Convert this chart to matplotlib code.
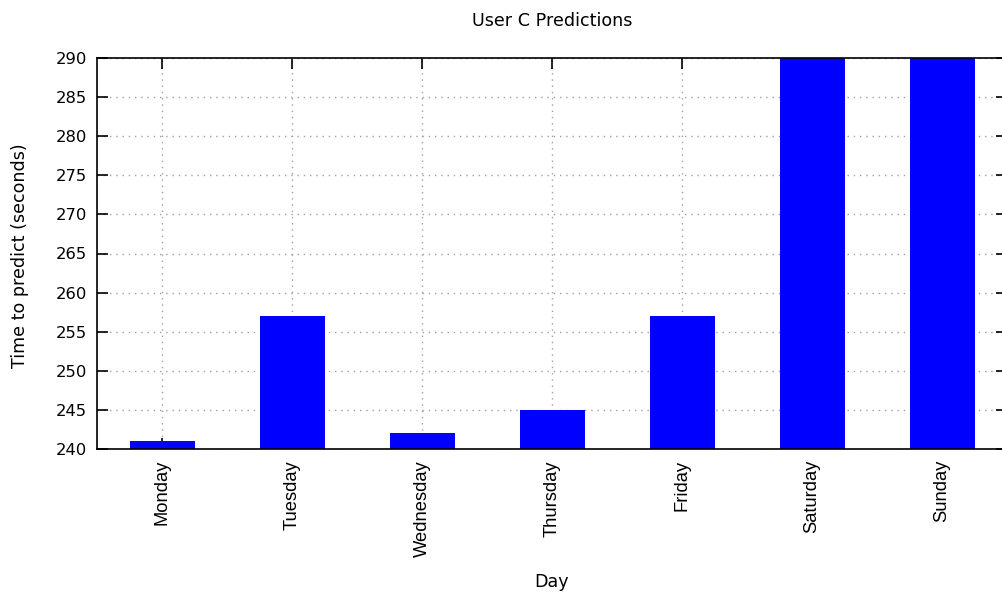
import matplotlib
matplotlib.use("Agg")
import matplotlib.pyplot as plt
import numpy as np

days = ['Monday', 'Tuesday', 'Wednesday', 'Thursday', 'Friday', 'Saturday', 'Sunday']
seconds = [241, 257, 242, 245, 257, 300, 300]
yticks = list(range(240, 291, 5))

plt.rcParams['font.family'] = 'DejaVu Sans'

W, H = 1002, 599
fig = plt.figure(figsize=(W / 100, H / 100), dpi=100)
# plot box in pixels: left 97, top 58, bottom 449; right edge runs past the canvas
ax = fig.add_axes([97 / W, 1 - 449 / H, 910 / W, (449 - 58) / H])

x = np.arange(len(days))
ax.bar(x, seconds, width=0.5, color='#0000ff', zorder=2)

ax.set_xlim(-0.5, len(days) - 0.5)
ax.set_ylim(240, 290)
ax.set_yticks(yticks)
ax.set_xticks(x)
ax.set_xticklabels(days, rotation=90, family='Liberation Sans', fontsize=13.2)

ax.grid(True, color='#a0a0a0', linestyle=(0, (1, 3.5)), linewidth=1, zorder=1)
ax.set_axisbelow(True)
ax.tick_params(direction='in', length=8, width=1.2, top=True, right=True,
               colors='black')
ax.tick_params(axis='y', labelsize=11.8, pad=7)
ax.tick_params(axis='x', pad=8)
for s in ax.spines.values():
    s.set_linewidth(1.2)

fig.text(552 / W, 1 - 21 / H, 'User C Predictions', fontsize=12.6,
         ha='center', va='center')
fig.text(552 / W, 1 - 582 / H, 'Day', fontsize=12.6, ha='center', va='center')
fig.text(20 / W, 1 - 256 / H, 'Time to predict (seconds)', fontsize=12.6,
         rotation=90, ha='center', va='center')

fig.savefig('out.png', dpi=100)
